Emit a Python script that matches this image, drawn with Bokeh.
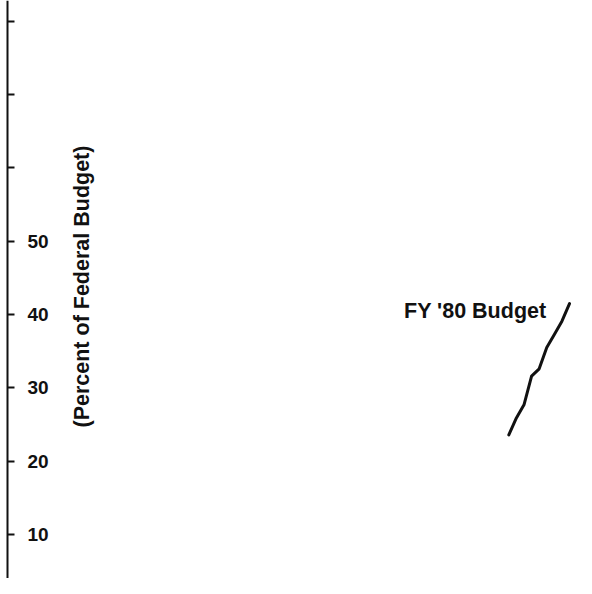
import math
from bokeh.plotting import figure
from bokeh.models import Range1d, LinearAxis, FixedTicker, Label
from bokeh.embed import file_html
from bokeh.resources import INLINE

# ---- data ----
years = [1972, 1973, 1974, 1975, 1976, 1977, 1978, 1979, 1980]
budget_pct = [23.6, 25.9, 27.7, 31.6, 32.6, 35.5, 37.3, 39.1, 41.5]
tick_values = [10, 20, 30, 40, 50, 60, 70, 80]
tick_labels = ["10", "20", "30", "40", "50", "", "", ""]
series_label = "FY '80 Budget"
axis_title = "(Percent of Federal Budget)"

INK = "#111111"
FONT = "Liberation Sans"

W, H = 576, 578
x0, x1 = 1905.01, 1980.92
y0, y1 = 4.0, 82.85

p = figure(width=W, height=H, output_backend="svg", toolbar_location=None,
           x_axis_location=None, y_axis_location=None,
           x_range=Range1d(x0, x1), y_range=Range1d(y0, y1),
           min_border=0, outline_line_color=None,
           background_fill_color="white", border_fill_color="white")
for g in p.grid:
    g.visible = False

px_per_x = W / (x1 - x0)
yaxis = LinearAxis(fixed_location=x0 + 7.0 / px_per_x,
                   ticker=FixedTicker(ticks=tick_values),
                   major_label_overrides=dict(zip(tick_values, tick_labels)),
                   axis_line_color=INK, axis_line_width=2,
                   major_tick_line_color=INK, major_tick_line_width=2,
                   major_tick_out=7, major_tick_in=0,
                   minor_tick_out=0, minor_tick_in=0,
                   major_label_standoff=13,
                   major_label_text_font=FONT,
                   major_label_text_font_size="19px",
                   major_label_text_font_style="bold",
                   major_label_text_color=INK)
p.add_layout(yaxis, "right")

# axis title, reading bottom-to-top, to the right of the tick labels
p.add_layout(Label(x=81, y=H - 427, x_units="screen", y_units="screen",
                   text=axis_title, angle=math.pi / 2,
                   text_align="left", text_baseline="middle",
                   text_font=FONT, text_font_size="21.5px",
                   text_font_style="bold", text_color=INK))

p.line(years, budget_pct, line_width=3, line_color=INK,
       line_join="round", line_cap="round")

p.add_layout(Label(x=1976.97, y=40.56, text=series_label,
                   text_align="right", text_baseline="alphabetic",
                   text_font=FONT, text_font_size="21.5px",
                   text_font_style="bold", text_color=INK))

open("out.html", "w").write(file_html(p, INLINE))
